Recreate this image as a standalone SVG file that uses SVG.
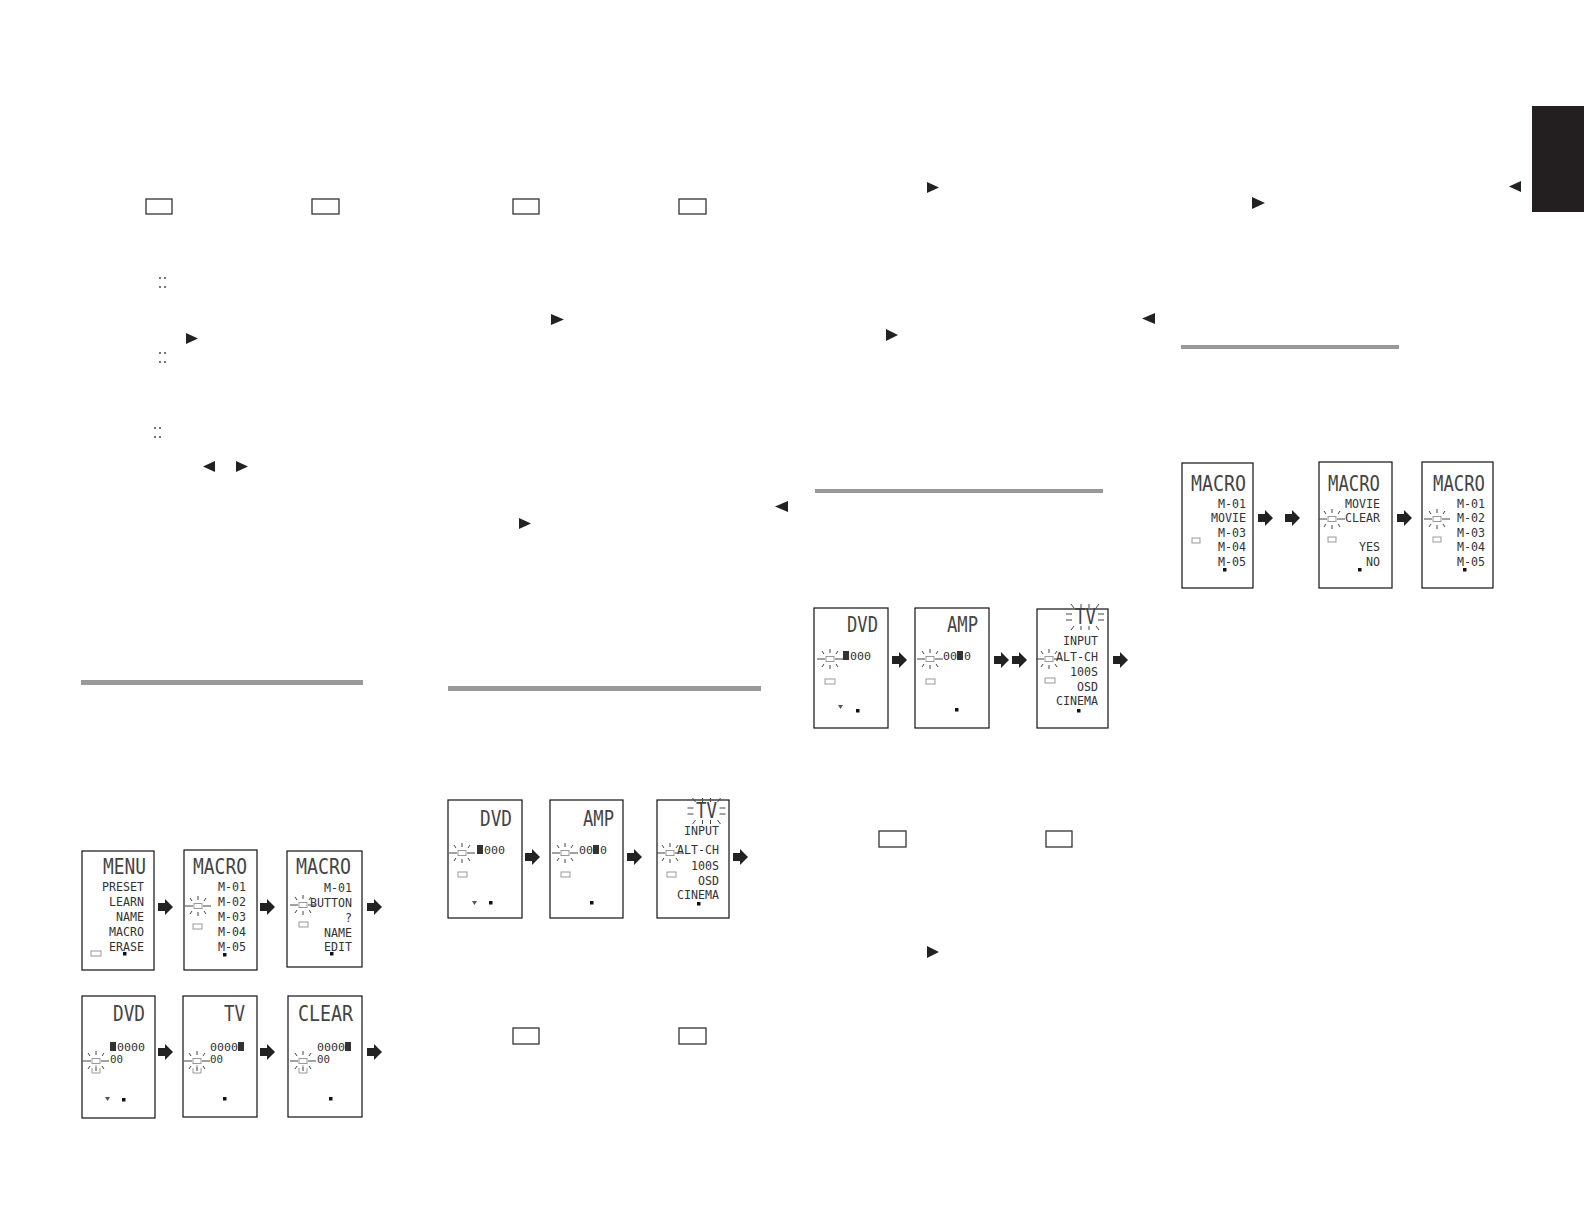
<svg xmlns="http://www.w3.org/2000/svg" width="1584" height="1224" viewBox="0 0 1584 1224">
<style>
.t{font-family:"DejaVu Sans Mono","Liberation Mono",monospace;font-size:21px;fill:#444}
.l{font-size:12.4px;fill:#333}
.d{font-size:11px;fill:#333}
.box{fill:#fff;stroke:#111;stroke-width:1.2}
.g{fill:none;stroke:#999;stroke-width:1}
.sq{fill:#111}
.blk{fill:#333}
.key{fill:none;stroke:#333;stroke-width:1.3}
.tri{fill:#222}
.rule{fill:#999}
.dot{fill:#333}
.spk{fill:none;stroke:#444;stroke-width:1}
</style>
<defs>
<g id="blink" fill="none" stroke-width="1">
<rect x="-4" y="-2.5" width="8" height="5" stroke="#999"/>
<path d="M-13,0H-5M5,0H13M0,-10V-6M0,6V10M-8,-8L-6,-5M8,-8L6,-5M-8,8L-6,5M8,8L6,5" stroke="#444"/>
</g>
<path id="pw" d="M-4,7V12H4V7M0,4V10" fill="none" stroke="#999" stroke-width="1"/>
<path id="arr" d="M0,-4H7V-8L15,0L7,8V4H0Z" fill="#222"/>
<g id="spark" class="spk">
<path d="M-19,-3H-13M-19,3H-13M13,-3H19M13,3H19M-14,-13L-11,-9M-4,-13V-9M4,-13V-9M14,-13L11,-9M-14,13L-11,9M-4,13V9M4,13V9M14,13L11,9"/>
</g>
</defs>
<rect width="1584" height="1224" fill="#fff"/>

<g id="page-marks">
<rect x="1532" y="106" width="52" height="106" fill="#231f20"/>
<rect class="rule" x="81" y="680" width="282" height="5"/>
<rect class="rule" x="448" y="686" width="313" height="5"/>
<rect class="rule" x="815" y="489" width="288" height="4"/>
<rect class="rule" x="1181" y="345" width="218" height="4"/>
<rect class="key" x="146" y="199" width="26" height="15"/>
<rect class="key" x="312" y="199" width="27" height="15"/>
<rect class="key" x="513" y="199" width="26" height="15"/>
<rect class="key" x="679" y="199" width="27" height="15"/>
<rect class="key" x="879" y="831" width="27" height="16"/>
<rect class="key" x="1046" y="831" width="26" height="16"/>
<rect class="key" x="513" y="1028" width="26" height="16"/>
<rect class="key" x="679" y="1028" width="27" height="16"/>
<polygon class="tri" points="186,333 186,344 198,338.5"/>
<polygon class="tri" points="215,461 215,472 203,466.5"/>
<polygon class="tri" points="236,461 236,472 248,466.5"/>
<polygon class="tri" points="551,314 551,325 564,319.5"/>
<polygon class="tri" points="788,501 788,512 775,506.5"/>
<polygon class="tri" points="519,518 519,529 531,523.5"/>
<polygon class="tri" points="927,182 927,193 939,187.5"/>
<polygon class="tri" points="1155,313 1155,324 1142,318.5"/>
<polygon class="tri" points="886,329 886,341 898,335"/>
<polygon class="tri" points="1521,181 1521,192 1509,186.5"/>
<polygon class="tri" points="1252,197 1252,209 1265,203"/>
<polygon class="tri" points="927,946 927,958 939,952"/>
<circle class="dot" cx="160" cy="278" r="0.9"/><circle class="dot" cx="165" cy="278" r="0.9"/>
<circle class="dot" cx="160" cy="287" r="0.9"/><circle class="dot" cx="165" cy="287" r="0.9"/>
<circle class="dot" cx="160" cy="353" r="0.9"/><circle class="dot" cx="165" cy="353" r="0.9"/>
<circle class="dot" cx="160" cy="362" r="0.9"/><circle class="dot" cx="165" cy="362" r="0.9"/>
<circle class="dot" cx="155" cy="428" r="0.9"/><circle class="dot" cx="160" cy="428" r="0.9"/>
<circle class="dot" cx="155" cy="437" r="0.9"/><circle class="dot" cx="160" cy="437" r="0.9"/>
</g>

<!-- Left column, row 1 -->
<g id="scr-menu">
<rect class="box" x="82" y="851" width="72" height="119"/>
<text class="t" x="103" y="874" textLength="43" lengthAdjust="spacingAndGlyphs">MENU</text>
<text class="t l" x="102" y="891" textLength="42" lengthAdjust="spacingAndGlyphs">PRESET</text>
<text class="t l" x="109" y="906" textLength="35" lengthAdjust="spacingAndGlyphs">LEARN</text>
<text class="t l" x="116" y="921" textLength="28" lengthAdjust="spacingAndGlyphs">NAME</text>
<text class="t l" x="109" y="936" textLength="35" lengthAdjust="spacingAndGlyphs">MACRO</text>
<text class="t l" x="109" y="951" textLength="35" lengthAdjust="spacingAndGlyphs">ERASE</text>
<rect class="g" x="91" y="951" width="10" height="5"/>
<rect class="sq" x="123" y="952" width="3.5" height="3.5"/>
</g>
<g id="scr-macro-list">
<rect class="box" x="184" y="850" width="73" height="120"/>
<text class="t" x="193" y="874" textLength="54" lengthAdjust="spacingAndGlyphs">MACRO</text>
<text class="t l" x="218" y="891" textLength="28" lengthAdjust="spacingAndGlyphs">M-01</text>
<text class="t l" x="218" y="906" textLength="28" lengthAdjust="spacingAndGlyphs">M-02</text>
<text class="t l" x="218" y="921" textLength="28" lengthAdjust="spacingAndGlyphs">M-03</text>
<text class="t l" x="218" y="936" textLength="28" lengthAdjust="spacingAndGlyphs">M-04</text>
<text class="t l" x="218" y="951" textLength="28" lengthAdjust="spacingAndGlyphs">M-05</text>
<use href="#blink" x="198" y="906"/>
<rect class="g" x="193" y="924" width="9" height="5"/>
<rect class="sq" x="223" y="953" width="3.5" height="3.5"/>
</g>
<g id="scr-macro-button">
<rect class="box" x="287" y="851" width="75" height="116"/>
<text class="t" x="296" y="874" textLength="55" lengthAdjust="spacingAndGlyphs">MACRO</text>
<text class="t l" x="324" y="892" textLength="28" lengthAdjust="spacingAndGlyphs">M-01</text>
<text class="t l" x="310" y="907" textLength="42" lengthAdjust="spacingAndGlyphs">BUTTON</text>
<text class="t l" x="345" y="922" textLength="7" lengthAdjust="spacingAndGlyphs">?</text>
<text class="t l" x="324" y="936.5" textLength="28" lengthAdjust="spacingAndGlyphs">NAME</text>
<text class="t l" x="324" y="951" textLength="28" lengthAdjust="spacingAndGlyphs">EDIT</text>
<use href="#blink" x="303" y="905"/>
<rect class="g" x="299" y="922" width="9" height="5"/>
<rect class="sq" x="330" y="952" width="3.5" height="3.5"/>
</g>

<!-- Left column, row 2 -->
<g id="scr-dvd-1">
<rect class="box" x="82" y="996" width="73" height="122"/>
<text class="t" x="113" y="1021" textLength="32" lengthAdjust="spacingAndGlyphs">DVD</text>
<rect class="blk" x="110" y="1042" width="6" height="9"/>
<text class="t d" x="117" y="1050.5" textLength="28" lengthAdjust="spacingAndGlyphs">0000</text>
<text class="t d" x="110" y="1063" textLength="13" lengthAdjust="spacingAndGlyphs">00</text>
<use href="#blink" x="96" y="1061"/>
<use href="#pw" x="96" y="1061"/>
<polygon points="105,1097 110,1097 107.5,1101" fill="#555"/>
<rect class="sq" x="122" y="1098" width="3.5" height="3.5"/>
</g>
<g id="scr-tv-1">
<rect class="box" x="183" y="996" width="74" height="121"/>
<text class="t" x="224" y="1021" textLength="21" lengthAdjust="spacingAndGlyphs">TV</text>
<text class="t d" x="210" y="1050.5" textLength="28" lengthAdjust="spacingAndGlyphs">0000</text>
<rect class="blk" x="238" y="1042" width="6" height="9"/>
<text class="t d" x="210" y="1063" textLength="13" lengthAdjust="spacingAndGlyphs">00</text>
<use href="#blink" x="197" y="1061"/>
<use href="#pw" x="197" y="1061"/>
<rect class="sq" x="223" y="1097" width="3.5" height="3.5"/>
</g>
<g id="scr-clear">
<rect class="box" x="288" y="996" width="74" height="121"/>
<text class="t" x="298" y="1021" textLength="55" lengthAdjust="spacingAndGlyphs">CLEAR</text>
<text class="t d" x="317" y="1050.5" textLength="28" lengthAdjust="spacingAndGlyphs">0000</text>
<rect class="blk" x="345" y="1042" width="6" height="9"/>
<text class="t d" x="317" y="1063" textLength="13" lengthAdjust="spacingAndGlyphs">00</text>
<use href="#blink" x="303" y="1061"/>
<use href="#pw" x="303" y="1061"/>
<rect class="sq" x="329" y="1097" width="3.5" height="3.5"/>
</g>

<!-- Middle column -->
<g id="scr-dvd-2">
<rect class="box" x="448" y="800" width="74" height="118"/>
<text class="t" x="480" y="826" textLength="32" lengthAdjust="spacingAndGlyphs">DVD</text>
<rect class="blk" x="477" y="845" width="6" height="9"/>
<text class="t d" x="484" y="854" textLength="21" lengthAdjust="spacingAndGlyphs">000</text>
<use href="#blink" x="462" y="853"/>
<rect class="g" x="458" y="872" width="9" height="5"/>
<polygon points="472,901 477,901 474.5,905" fill="#555"/>
<rect class="sq" x="489" y="901" width="3.5" height="3.5"/>
</g>
<g id="scr-amp-2">
<rect class="box" x="550" y="800" width="73" height="118"/>
<text class="t" x="583" y="826" textLength="31" lengthAdjust="spacingAndGlyphs">AMP</text>
<text class="t d" x="579" y="854" textLength="14" lengthAdjust="spacingAndGlyphs">00</text>
<rect class="blk" x="593" y="845" width="6" height="9"/>
<text class="t d" x="600" y="854" textLength="7" lengthAdjust="spacingAndGlyphs">0</text>
<use href="#blink" x="565" y="853"/>
<rect class="g" x="561" y="872" width="9" height="5"/>
<rect class="sq" x="590" y="901" width="3.5" height="3.5"/>
</g>
<g id="scr-tv-2">
<rect class="box" x="657" y="800" width="72" height="118"/>
<text class="t" x="696" y="818" font-size="19" textLength="21" lengthAdjust="spacingAndGlyphs">TV</text>
<use href="#spark" x="706.5" y="811"/>
<text class="t l" x="684" y="835" textLength="35" lengthAdjust="spacingAndGlyphs">INPUT</text>
<text class="t l" x="677" y="854" textLength="42" lengthAdjust="spacingAndGlyphs">ALT-CH</text>
<text class="t l" x="691" y="870" textLength="28" lengthAdjust="spacingAndGlyphs">100S</text>
<text class="t l" x="698" y="884.5" textLength="21" lengthAdjust="spacingAndGlyphs">OSD</text>
<text class="t l" x="677" y="899" textLength="42" lengthAdjust="spacingAndGlyphs">CINEMA</text>
<use href="#blink" x="670" y="853"/>
<rect class="g" x="667" y="872" width="9" height="5"/>
<rect class="sq" x="697" y="902" width="3.5" height="3.5"/>
</g>

<!-- Third column -->
<g id="scr-dvd-3">
<rect class="box" x="814" y="608" width="74" height="120"/>
<text class="t" x="847" y="632" textLength="31" lengthAdjust="spacingAndGlyphs">DVD</text>
<rect class="blk" x="843" y="651" width="6" height="9"/>
<text class="t d" x="850" y="660" textLength="21" lengthAdjust="spacingAndGlyphs">000</text>
<use href="#blink" x="830" y="659"/>
<rect class="g" x="825" y="679" width="10" height="5"/>
<polygon points="838,705 843,705 840.5,709" fill="#555"/>
<rect class="sq" x="856" y="709" width="3.5" height="3.5"/>
</g>
<g id="scr-amp-3">
<rect class="box" x="915" y="608" width="74" height="120"/>
<text class="t" x="947" y="632" textLength="31" lengthAdjust="spacingAndGlyphs">AMP</text>
<text class="t d" x="943" y="660" textLength="14" lengthAdjust="spacingAndGlyphs">00</text>
<rect class="blk" x="957" y="651" width="6" height="9"/>
<text class="t d" x="964" y="660" textLength="7" lengthAdjust="spacingAndGlyphs">0</text>
<use href="#blink" x="930" y="659"/>
<rect class="g" x="926" y="679" width="9" height="5"/>
<rect class="sq" x="955" y="708" width="3.5" height="3.5"/>
</g>
<g id="scr-tv-3">
<rect class="box" x="1037" y="609" width="71" height="119"/>
<text class="t" x="1075" y="624" font-size="19" textLength="21" lengthAdjust="spacingAndGlyphs">TV</text>
<use href="#spark" x="1085" y="617"/>
<text class="t l" x="1063" y="645" textLength="35" lengthAdjust="spacingAndGlyphs">INPUT</text>
<text class="t l" x="1056" y="661" textLength="42" lengthAdjust="spacingAndGlyphs">ALT-CH</text>
<text class="t l" x="1070" y="676" textLength="28" lengthAdjust="spacingAndGlyphs">100S</text>
<text class="t l" x="1077" y="690.5" textLength="21" lengthAdjust="spacingAndGlyphs">OSD</text>
<text class="t l" x="1056" y="705" textLength="42" lengthAdjust="spacingAndGlyphs">CINEMA</text>
<use href="#blink" x="1049" y="659"/>
<rect class="g" x="1045" y="678" width="10" height="5"/>
<rect class="sq" x="1077" y="709" width="3.5" height="3.5"/>
</g>

<!-- Right column -->
<g id="scr-macro-movie">
<rect class="box" x="1182" y="463" width="71" height="125"/>
<text class="t" x="1191" y="491" textLength="55" lengthAdjust="spacingAndGlyphs">MACRO</text>
<text class="t l" x="1218" y="507.5" textLength="28" lengthAdjust="spacingAndGlyphs">M-01</text>
<text class="t l" x="1211" y="522" textLength="35" lengthAdjust="spacingAndGlyphs">MOVIE</text>
<text class="t l" x="1218" y="536.5" textLength="28" lengthAdjust="spacingAndGlyphs">M-03</text>
<text class="t l" x="1218" y="551" textLength="28" lengthAdjust="spacingAndGlyphs">M-04</text>
<text class="t l" x="1218" y="565.5" textLength="28" lengthAdjust="spacingAndGlyphs">M-05</text>
<rect class="g" x="1192" y="538" width="8" height="5"/>
<rect class="sq" x="1223" y="568" width="3.5" height="3.5"/>
</g>
<g id="scr-macro-clear">
<rect class="box" x="1319" y="462" width="73" height="126"/>
<text class="t" x="1328" y="491" textLength="52" lengthAdjust="spacingAndGlyphs">MACRO</text>
<text class="t l" x="1345" y="507.5" textLength="35" lengthAdjust="spacingAndGlyphs">MOVIE</text>
<text class="t l" x="1345" y="522" textLength="35" lengthAdjust="spacingAndGlyphs">CLEAR</text>
<text class="t l" x="1359" y="551" textLength="21" lengthAdjust="spacingAndGlyphs">YES</text>
<text class="t l" x="1366" y="565.5" textLength="14" lengthAdjust="spacingAndGlyphs">NO</text>
<use href="#blink" x="1332" y="519"/>
<rect class="g" x="1328" y="537" width="8" height="5"/>
<rect class="sq" x="1358" y="568" width="3.5" height="3.5"/>
</g>
<g id="scr-macro-list-2">
<rect class="box" x="1422" y="462" width="71" height="126"/>
<text class="t" x="1433" y="491" textLength="52" lengthAdjust="spacingAndGlyphs">MACRO</text>
<text class="t l" x="1457" y="507.5" textLength="28" lengthAdjust="spacingAndGlyphs">M-01</text>
<text class="t l" x="1457" y="522" textLength="28" lengthAdjust="spacingAndGlyphs">M-02</text>
<text class="t l" x="1457" y="536.5" textLength="28" lengthAdjust="spacingAndGlyphs">M-03</text>
<text class="t l" x="1457" y="551" textLength="28" lengthAdjust="spacingAndGlyphs">M-04</text>
<text class="t l" x="1457" y="565.5" textLength="28" lengthAdjust="spacingAndGlyphs">M-05</text>
<use href="#blink" x="1437" y="519"/>
<rect class="g" x="1433" y="537" width="8" height="5"/>
<rect class="sq" x="1463" y="568" width="3.5" height="3.5"/>
</g>

<g id="connectors">
<use href="#arr" x="158" y="907"/>
<use href="#arr" x="260" y="907"/>
<use href="#arr" x="367" y="907"/>
<use href="#arr" x="158" y="1052"/>
<use href="#arr" x="260" y="1052"/>
<use href="#arr" x="367" y="1052"/>
<use href="#arr" x="525" y="857"/>
<use href="#arr" x="627" y="857"/>
<use href="#arr" x="733" y="857"/>
<use href="#arr" x="892" y="660"/>
<use href="#arr" x="994" y="660"/>
<use href="#arr" x="1012" y="660"/>
<use href="#arr" x="1113" y="660"/>
<use href="#arr" x="1258" y="518"/>
<use href="#arr" x="1285" y="518"/>
<use href="#arr" x="1397" y="518"/>
</g>
</svg>
